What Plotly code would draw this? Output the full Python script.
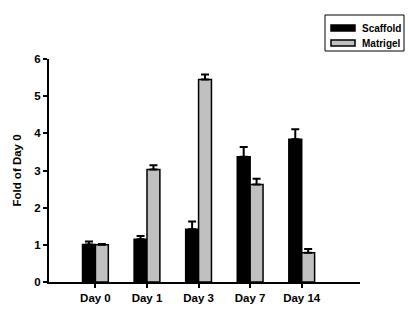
import plotly.graph_objects as go

days = ["Day 0", "Day 1", "Day 3", "Day 7", "Day 14"]
scaffold = [1.01, 1.15, 1.42, 3.37, 3.84]
scaffold_err = [0.08, 0.09, 0.21, 0.26, 0.27]
matrigel = [1.00, 3.03, 5.45, 2.62, 0.79]
matrigel_err = [0.02, 0.11, 0.13, 0.16, 0.10]
y_ticks = [0, 1, 2, 3, 4, 5, 6]

series = [
    ("Scaffold", scaffold, scaffold_err, "#000000"),
    ("Matrigel", matrigel, matrigel_err, "#c0c0c0"),
]

font_family = "Liberation Sans, Arial, sans-serif"
W, H = 408, 326
M = dict(l=49, r=48, t=59, b=44)
plot_w = W - M["l"] - M["r"]
plot_h = H - M["t"] - M["b"]


def px_x(x):
    return (x - M["l"]) / plot_w


def px_y(y):
    return (H - M["b"] - y) / plot_h


fig = go.Figure()
for name, vals, errs, color in series:
    fig.add_trace(go.Bar(
        x=days, y=vals, name=name, showlegend=False,
        marker=dict(color=color, line=dict(color="#000000", width=1.5)),
        error_y=dict(type="data", array=errs, arrayminus=[0] * len(days),
                     symmetric=False, color="#000000", thickness=2, width=4),
    ))

# Boxed legend with wide swatches
shapes = [dict(type="rect", xref="paper", yref="paper",
               x0=px_x(325), x1=px_x(404), y0=px_y(51), y1=px_y(15),
               line=dict(color="#000000", width=1), fillcolor="white")]
annotations = []
for i, (name, _, _, color) in enumerate(series):
    cy = 28 + i * 15
    shapes.append(dict(type="rect", xref="paper", yref="paper",
                       x0=px_x(331), x1=px_x(355), y0=px_y(cy + 3), y1=px_y(cy - 3),
                       line=dict(color="#000000", width=1.5), fillcolor=color))
    annotations.append(dict(text=name, xref="paper", yref="paper",
                            x=px_x(360), y=px_y(cy), xanchor="left", yanchor="middle",
                            showarrow=False,
                            font=dict(family=font_family, size=10, color="#000000",
                                      weight="bold")))

fig.update_layout(
    width=W, height=H,
    margin=M,
    paper_bgcolor="white", plot_bgcolor="white",
    barmode="group", bargap=0.5, bargroupgap=0,
    font=dict(family=font_family, size=11, color="#000000", weight="bold"),
    showlegend=False,
    shapes=shapes,
    annotations=annotations,
    xaxis=dict(
        range=[-0.9, 5.13], showline=True, linecolor="#000000", linewidth=2,
        ticks="outside", ticklen=4, tickwidth=2, tickcolor="#000000",
        showgrid=False, zeroline=False,
        tickfont=dict(family=font_family, size=11.5, color="#000000", weight="bold"),
    ),
    yaxis=dict(
        range=[0, 6], tickvals=y_ticks, showline=True, linecolor="#000000",
        linewidth=2, ticks="outside", ticklen=4, tickwidth=2,
        tickcolor="#000000", showgrid=False, zeroline=False,
        tickfont=dict(family=font_family, size=11.5, color="#000000", weight="bold"),
        title=dict(text="Fold of Day 0", standoff=10,
                   font=dict(family=font_family, size=11.5, color="#000000",
                             weight="bold")),
    ),
)

fig.write_html("out.html")
